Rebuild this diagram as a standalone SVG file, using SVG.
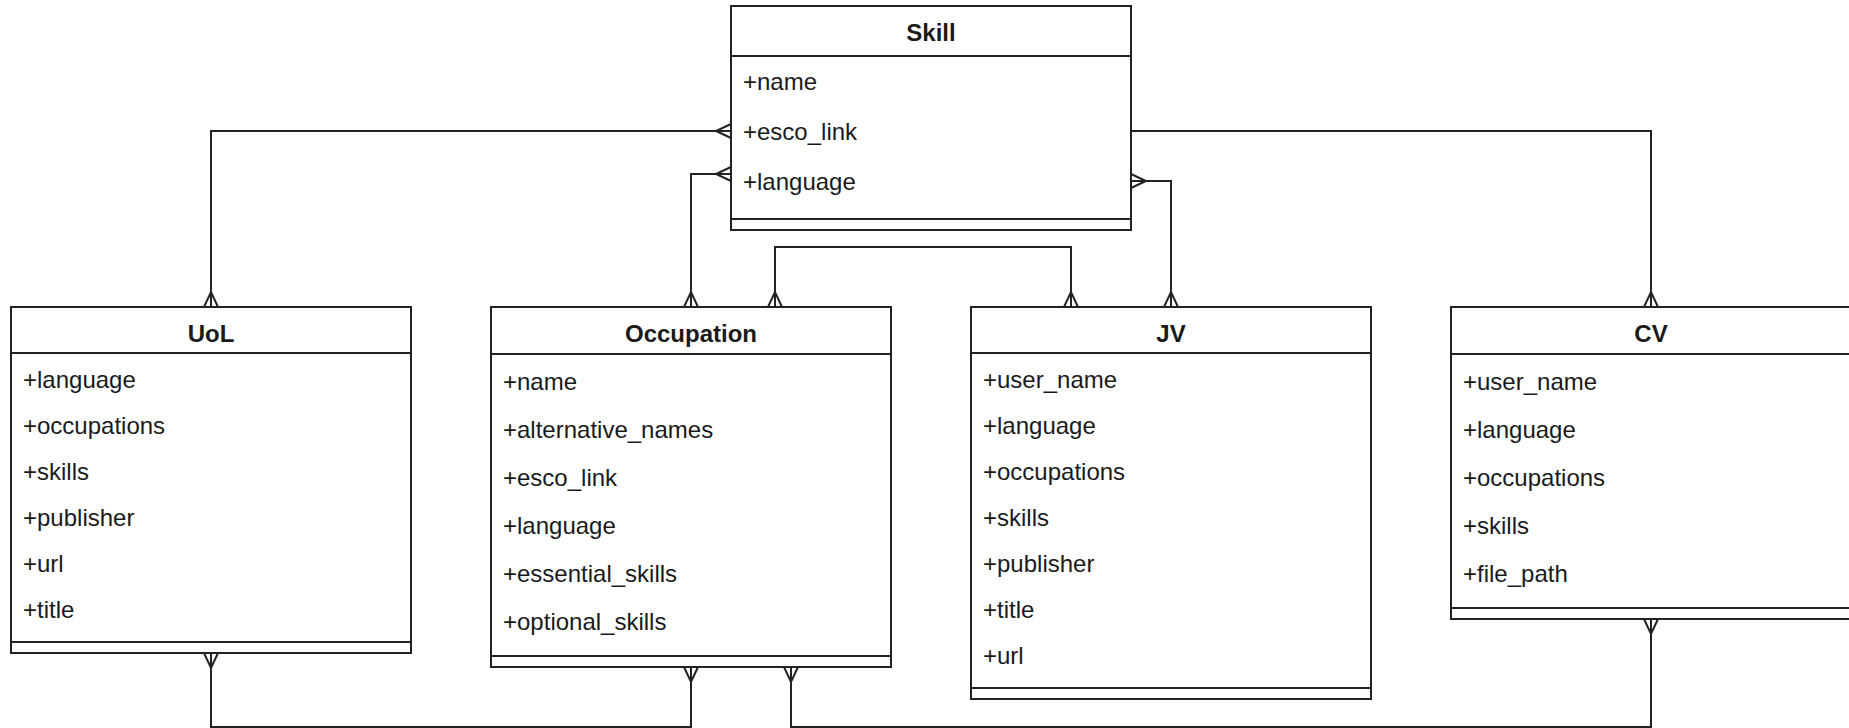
<svg xmlns="http://www.w3.org/2000/svg" width="1849" height="728" viewBox="0 0 1849 728">
<style>
.box{fill:#fff;stroke:#222;stroke-width:2}
.sep{stroke:#222;stroke-width:2}
.title{font-family:"Liberation Sans",Arial,sans-serif;font-size:24px;font-weight:bold;fill:#1a1a1a;text-anchor:middle}
.attr{font-family:"Liberation Sans",Arial,sans-serif;font-size:24px;fill:#1a1a1a}
.conn{fill:none;stroke:#222;stroke-width:2;marker-start:url(#crow);marker-end:url(#crow)}
.conn1{fill:none;stroke:#222;stroke-width:2;marker-end:url(#crow)}
</style>
<defs>
<marker id="crow" markerUnits="userSpaceOnUse" viewBox="-17 -9 18 18" refX="0" refY="0" markerWidth="18" markerHeight="18" orient="auto-start-reverse" overflow="visible">
<path d="M0 -7 L-15 0 L0 7" fill="none" stroke="#222" stroke-width="2"/>
</marker>
</defs>

<g id="node-skill">
<rect class="box" x="731" y="6" width="400" height="224"/>
<line class="sep" x1="731" y1="56" x2="1131" y2="56"/>
<line class="sep" x1="731" y1="219" x2="1131" y2="219"/>
<text class="title" x="931" y="41">Skill</text>
<text class="attr" x="743" y="90">+name</text>
<text class="attr" x="743" y="140">+esco_link</text>
<text class="attr" x="743" y="190">+language</text>
</g>

<g id="node-uol">
<rect class="box" x="11" y="307" width="400" height="346"/>
<line class="sep" x1="11" y1="353" x2="411" y2="353"/>
<line class="sep" x1="11" y1="642" x2="411" y2="642"/>
<text class="title" x="211" y="342">UoL</text>
<text class="attr" x="23" y="388">+language</text>
<text class="attr" x="23" y="434">+occupations</text>
<text class="attr" x="23" y="480">+skills</text>
<text class="attr" x="23" y="526">+publisher</text>
<text class="attr" x="23" y="572">+url</text>
<text class="attr" x="23" y="618">+title</text>
</g>

<g id="node-occupation">
<rect class="box" x="491" y="307" width="400" height="360"/>
<line class="sep" x1="491" y1="354" x2="891" y2="354"/>
<line class="sep" x1="491" y1="656" x2="891" y2="656"/>
<text class="title" x="691" y="342">Occupation</text>
<text class="attr" x="503" y="389.5">+name</text>
<text class="attr" x="503" y="437.6">+alternative_names</text>
<text class="attr" x="503" y="485.7">+esco_link</text>
<text class="attr" x="503" y="533.8">+language</text>
<text class="attr" x="503" y="581.9">+essential_skills</text>
<text class="attr" x="503" y="630">+optional_skills</text>
</g>

<g id="node-jv">
<rect class="box" x="971" y="307" width="400" height="392"/>
<line class="sep" x1="971" y1="353" x2="1371" y2="353"/>
<line class="sep" x1="971" y1="688" x2="1371" y2="688"/>
<text class="title" x="1171" y="342">JV</text>
<text class="attr" x="983" y="388">+user_name</text>
<text class="attr" x="983" y="434">+language</text>
<text class="attr" x="983" y="480">+occupations</text>
<text class="attr" x="983" y="526">+skills</text>
<text class="attr" x="983" y="572">+publisher</text>
<text class="attr" x="983" y="618">+title</text>
<text class="attr" x="983" y="664">+url</text>
</g>

<g id="node-cv">
<rect class="box" x="1451" y="307" width="400" height="312"/>
<line class="sep" x1="1451" y1="354" x2="1851" y2="354"/>
<line class="sep" x1="1451" y1="608" x2="1851" y2="608"/>
<text class="title" x="1651" y="342">CV</text>
<text class="attr" x="1463" y="389.5">+user_name</text>
<text class="attr" x="1463" y="437.5">+language</text>
<text class="attr" x="1463" y="485.5">+occupations</text>
<text class="attr" x="1463" y="533.5">+skills</text>
<text class="attr" x="1463" y="581.5">+file_path</text>
</g>

<g id="connectors">
<path class="conn" d="M731 131 H211 V307"/>
<path class="conn" d="M731 174 H691 V307"/>
<path class="conn" d="M775 307 V247 H1071 V307"/>
<path class="conn" d="M1131 181 H1171 V307"/>
<path class="conn1" d="M1131 131 H1651 V307"/>
<path class="conn" d="M211 653 V727 H691 V667"/>
<path class="conn" d="M791 667 V727 H1651 V619"/>
</g>
</svg>
